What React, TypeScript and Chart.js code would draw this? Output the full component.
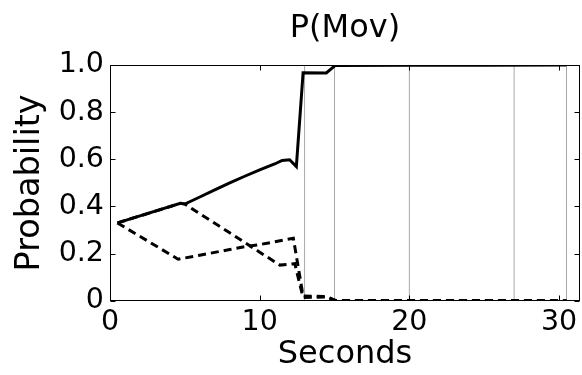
import React, { useEffect, useRef } from 'react';
import { Chart, registerables } from 'chart.js';

Chart.register(...registerables);

// ---- data ----
const solidTime = [0.5, 4.7, 5.0, 6.0, 7.0, 8.0, 9.0, 10.0, 11.0, 11.5, 12.0, 12.45, 12.9, 14.45, 15.05, 20, 25, 30.5];
const solidProb = [0.33, 0.413, 0.41, 0.44, 0.47, 0.5, 0.528, 0.555, 0.58, 0.595, 0.598, 0.569, 0.967, 0.966, 0.998, 0.999, 0.999, 1.0];

const dashATime = [0.5, 4.55, 6.0, 7.0, 8.0, 9.0, 10.0, 11.0, 12.25, 12.9, 14.45, 15.05, 20, 25, 30.5];
const dashAProb = [0.33, 0.176, 0.193, 0.205, 0.217, 0.229, 0.238, 0.25, 0.265, 0.02, 0.018, 0.001, 0.001, 0.001, 0.0];

const dashBTime = [0.5, 4.7, 5.0, 6.0, 7.0, 8.0, 9.0, 10.0, 11.35, 12.35, 12.9, 14.45, 15.05, 20, 25, 30.5];
const dashBProb = [0.33, 0.413, 0.41, 0.369, 0.329, 0.288, 0.247, 0.206, 0.151, 0.157, 0.013, 0.016, 0.001, 0.001, 0.001, 0.0];

const eventTimes = [13, 15, 20, 27, 30.5];

const xTicks = [0, 10, 20, 30];
const yTicks = [0, 0.2, 0.4, 0.6, 0.8, 1.0];
const yTickLabels = ['0', '0.2', '0.4', '0.6', '0.8', '1.0'];

const titleText = 'P(Mov)';
const xLabel = 'Seconds';
const yLabel = 'Probability';

const FONT = 'DejaVu Sans';

const pts = (xs: number[], ys: number[]) => xs.map((x, i) => ({ x, y: ys[i] }));

const framePlugin = {
  id: 'frame',
  afterDatasetsDraw(chart: any) {
    const { ctx, chartArea, scales } = chart;
    const { left, top, right, bottom } = chartArea;
    const L = Math.round(left) + 0.5;
    const R = Math.round(right) - 0.5;
    const T = Math.round(top) + 0.5;
    const B = Math.round(bottom) - 0.5;
    ctx.save();
    ctx.strokeStyle = '#000';
    ctx.lineWidth = 1;
    ctx.strokeRect(L, T, R - L, B - T);
    const len = 5;
    ctx.beginPath();
    for (const v of xTicks) {
      const p = Math.round(scales.x.getPixelForValue(v)) + 0.5;
      ctx.moveTo(p, B);
      ctx.lineTo(p, B - len);
      ctx.moveTo(p, T);
      ctx.lineTo(p, T + len);
    }
    for (const v of yTicks) {
      const p = Math.round(scales.y.getPixelForValue(v)) + 0.5;
      ctx.moveTo(L, p);
      ctx.lineTo(L + len, p);
      ctx.moveTo(R, p);
      ctx.lineTo(R - len, p);
    }
    ctx.stroke();
    ctx.restore();
  },
};

export default function App() {
  const ref = useRef<HTMLCanvasElement | null>(null);

  useEffect(() => {
    if (!ref.current) return;
    const lineStyle = { pointRadius: 0, tension: 0, fill: false, borderColor: '#000', borderWidth: 3 };
    const eventSets = eventTimes.map((t) => ({
      data: [{ x: t, y: 0 }, { x: t, y: 1 }],
      borderColor: '#a8a8a8',
      borderWidth: 1,
      pointRadius: 0,
      order: 10,
    }));
    const chart = new Chart(ref.current, {
      type: 'line',
      data: {
        datasets: [
          { ...lineStyle, data: pts(solidTime, solidProb), order: 0 },
          { ...lineStyle, data: pts(dashATime, dashAProb), borderDash: [8, 5], order: 1 },
          { ...lineStyle, data: pts(dashBTime, dashBProb), borderDash: [8, 5], order: 1 },
          ...eventSets,
        ],
      },
      options: {
        animation: false,
        responsive: false,
        devicePixelRatio: 1,
        layout: { padding: { left: 0, right: 2, top: 0, bottom: 0 } },
        plugins: { legend: { display: false }, tooltip: { enabled: false }, title: { display: false } },
        scales: {
          x: {
            type: 'linear',
            min: 0,
            max: 31.4,
            afterBuildTicks: (s: any) => { s.ticks = xTicks.map((v) => ({ value: v })); },
            afterFit: (s: any) => { s.height = 74.3; },
            ticks: {
              font: { family: FONT, size: 28.5 },
              color: '#000',
              padding: 4.7,
              maxRotation: 0,
              autoSkip: false,
              callback: (v: any) => String(v),
            },
            grid: { display: false, drawTicks: false },
            border: { display: false },
            title: {
              display: true,
              text: xLabel,
              color: '#000',
              font: { family: FONT, size: 32 },
              padding: { top: 0, bottom: 1 },
            },
          },
          x2: {
            type: 'linear',
            position: 'top',
            min: 0,
            max: 1,
            afterFit: (s: any) => { s.height = 65; },
            ticks: { display: false },
            grid: { display: false, drawTicks: false },
            border: { display: false },
            title: {
              display: true,
              text: titleText,
              color: '#000',
              font: { family: FONT, size: 32 },
              padding: { top: 9.2, bottom: 0 },
            },
          },
          y: {
            type: 'linear',
            min: 0,
            max: 1,
            afterBuildTicks: (s: any) => { s.ticks = yTicks.map((v) => ({ value: v })); },
            afterFit: (s: any) => { s.width = 110; },
            ticks: {
              font: { family: FONT, size: 28.5 },
              color: '#000',
              padding: 6,
              autoSkip: false,
              callback: (v: any) => {
                const i = yTicks.findIndex((t) => Math.abs(t - Number(v)) < 1e-6);
                return i >= 0 ? yTickLabels[i] : '';
              },
            },
            grid: { display: false, drawTicks: false },
            border: { display: false },
            title: {
              display: true,
              text: yLabel,
              color: '#000',
              font: { family: FONT, size: 33.5 },
              padding: { top: 10, bottom: 0 },
            },
          },
        },
      } as any,
      plugins: [framePlugin],
    });
    return () => chart.destroy();
  }, []);

  return (
    <div style={{ position: 'fixed', left: 0, top: 0, width: 582, height: 375, background: '#fff' }}>
      <canvas ref={ref} width={582} height={375} style={{ width: 582, height: 375 }} />
    </div>
  );
}
